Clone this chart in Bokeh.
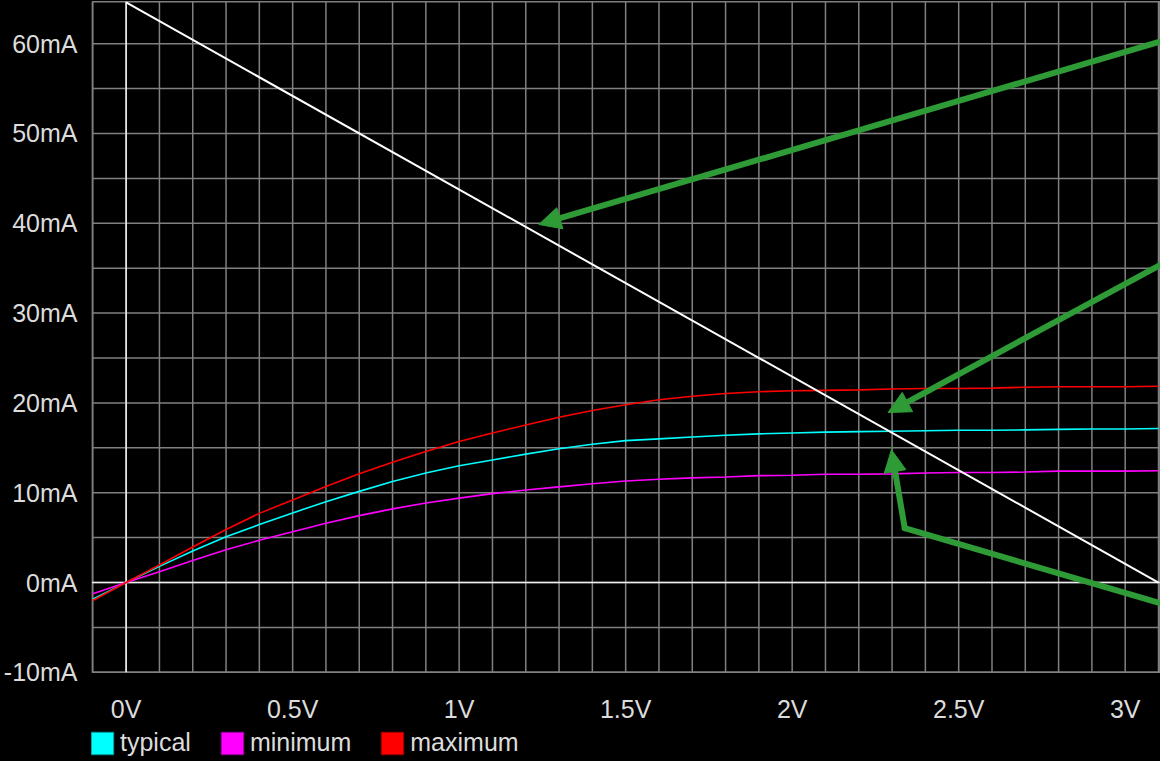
from bokeh.plotting import figure
from bokeh.core.properties import value
from bokeh.models import (Range1d, FixedTicker, CustomJSTickFormatter, Arrow,
                          NormalHead, Legend, LegendItem)
from bokeh.embed import file_html
from bokeh.resources import INLINE

# ---- data ----
voltage = [-0.1, 0.0, 0.1, 0.2, 0.3, 0.4, 0.5, 0.6, 0.7, 0.8, 0.9, 1.0, 1.1, 1.2, 1.3, 1.4,
           1.5, 1.6, 1.7, 1.8, 1.9, 2.0, 2.1, 2.2, 2.3, 2.4, 2.5, 2.6, 2.7, 2.8, 2.9, 3.0, 3.1]
i_typical = [-1.85, 0.0, 1.8, 3.5, 5.1, 6.45, 7.75, 9.0, 10.15, 11.25, 12.2, 13.0, 13.65, 14.3,
             14.9, 15.4, 15.8, 16.0, 16.2, 16.4, 16.55, 16.65, 16.75, 16.8, 16.85, 16.9, 16.95,
             16.95, 17.0, 17.05, 17.1, 17.1, 17.15]
i_minimum = [-1.25, 0.0, 1.2, 2.45, 3.65, 4.7, 5.65, 6.6, 7.45, 8.2, 8.85, 9.4, 9.9, 10.3, 10.65,
             11.0, 11.3, 11.5, 11.65, 11.75, 11.9, 11.95, 12.05, 12.05, 12.1, 12.2, 12.25, 12.25,
             12.3, 12.4, 12.4, 12.4, 12.45]
i_maximum = [-2.0, 0.0, 1.95, 3.95, 5.9, 7.7, 9.2, 10.7, 12.1, 13.4, 14.6, 15.7, 16.65, 17.55,
             18.4, 19.15, 19.8, 20.35, 20.75, 21.05, 21.25, 21.35, 21.4, 21.45, 21.55, 21.6, 21.6,
             21.65, 21.75, 21.8, 21.8, 21.8, 21.85]
load_v = [0.0, 3.1]
load_i = [64.6, 0.0]

series_names = ["typical", "minimum", "maximum"]
series_colors = ["#00ffff", "#ff00ff", "#ff0000"]
swatch_edges = ["#00a0a0", "#a000a0", "#a00000"]

x_tick_values = [0, 0.5, 1, 1.5, 2, 2.5, 3]
x_tick_labels = ["0V", "0.5V", "1V", "1.5V", "2V", "2.5V", "3V"]
y_tick_values = [-10, 0, 10, 20, 30, 40, 50, 60]

# annotation arrows (start -> tip), data units
arrow1 = dict(x0=3.13, y0=60.5, x1=1.239, y1=39.87)
arrow2 = dict(x0=3.13, y0=35.86, x1=2.288, y1=18.93)
arrow3_path_x = [3.13, 2.338]
arrow3_path_y = [-2.56, 6.05]
arrow3 = dict(x0=2.338, y0=6.05, x1=2.298, y1=14.78)

# ---- styling / layout constants ----
GRID = "#808080"
TXT = "#dcdcdc"
FONT = "Liberation Sans"
GREEN = "#2e9b36"
X_LO, X_HI = -0.1025, 3.104      # plot-box edges (V)
Y_LO, Y_HI = -10.0, 64.66        # plot-box edges (mA)
X_LABEL_BASE = -14.1             # baseline of the voltage labels (mA units, below the box)

# The frame reaches the bottom of the figure so that the voltage labels and
# the legend strip below the plot box are not clipped.
p = figure(width=1160, height=761, output_backend="svg", toolbar_location=None,
           x_range=Range1d(-0.104, 3.106), y_range=Range1d(-19.93, 64.81),
           x_axis_location=None,
           background_fill_color="black", border_fill_color="black",
           min_border_left=89, min_border_right=0, min_border_top=0, min_border_bottom=0,
           outline_line_color=None)
p.styles = {"background-color": "black"}
p.grid.visible = False

ax = p.yaxis[0]
ax.ticker = FixedTicker(ticks=y_tick_values)
ax.formatter = CustomJSTickFormatter(code="return tick + 'mA'")
ax.axis_line_color = None
ax.major_tick_line_color = None
ax.minor_tick_line_color = None
ax.major_label_text_color = TXT
ax.major_label_text_font = FONT
ax.major_label_text_font_size = "25px"
ax.major_label_standoff = 8

# grid inside the plot box
grid_x = [round(-0.1 + 0.1 * k, 2) for k in range(33)]
grid_y = [-10 + 5 * k for k in range(15)]
p.segment(x0=grid_x, y0=[Y_LO] * len(grid_x), x1=grid_x, y1=[Y_HI] * len(grid_x),
          line_color=GRID, line_width=1.5)
p.segment(x0=[X_LO] * len(grid_y), y0=grid_y, x1=[X_HI] * len(grid_y), y1=grid_y,
          line_color=GRID, line_width=1.5)
# plot-box border
p.line([X_LO, X_HI, X_HI, X_LO, X_LO], [Y_HI, Y_HI, Y_LO, Y_LO, Y_HI],
       line_color=GRID, line_width=1.5)
# zero lines
p.segment(x0=[0, X_LO], y0=[Y_LO, 0], x1=[0, X_HI], y1=[Y_HI, 0],
          line_color="#eeeeee", line_width=1.6)

# voltage tick labels
p.text(x=x_tick_values, y=[X_LABEL_BASE] * len(x_tick_values), text=x_tick_labels,
       text_font=value(FONT), text_font_size="25px", text_color=TXT,
       text_align="center", text_baseline="alphabetic")

# curves
for ys, col in zip([i_typical, i_minimum, i_maximum], series_colors):
    p.line(voltage, ys, line_color=col, line_width=1.6)

# load line
p.line(load_v, load_i, line_color="white", line_width=2)

# arrows
for a in (arrow1, arrow2):
    p.add_layout(Arrow(x_start=a["x0"], y_start=a["y0"], x_end=a["x1"], y_end=a["y1"],
                       line_color=GREEN, line_width=6,
                       end=NormalHead(size=22, fill_color=GREEN, line_color=GREEN)))
p.line(arrow3_path_x, arrow3_path_y, line_color=GREEN, line_width=6, line_cap="round")
p.add_layout(Arrow(x_start=arrow3["x0"], y_start=arrow3["y0"], x_end=arrow3["x1"],
                   y_end=arrow3["y1"], line_color=GREEN, line_width=6, line_cap="round",
                   end=NormalHead(size=22, fill_color=GREEN, line_color=GREEN)))

# legend with square swatches (swatch renderers sit outside the visible range)
items = []
for name, col, edge in zip(series_names, series_colors, swatch_edges):
    r = p.quad(left=[10], right=[11], top=[200], bottom=[199], fill_color=col, line_color=edge)
    items.append(LegendItem(label=name, renderers=[r]))
legend = Legend(items=items, orientation="horizontal", location=(-3, 4),
                glyph_width=28, glyph_height=28, label_standoff=4, spacing=27,
                padding=0, margin=0, label_text_font=FONT, label_text_font_size="25px",
                label_text_color=TXT, background_fill_alpha=0, border_line_alpha=0,
                label_height=22)
p.add_layout(legend)

open("out.html", "w").write(file_html(p, INLINE))
